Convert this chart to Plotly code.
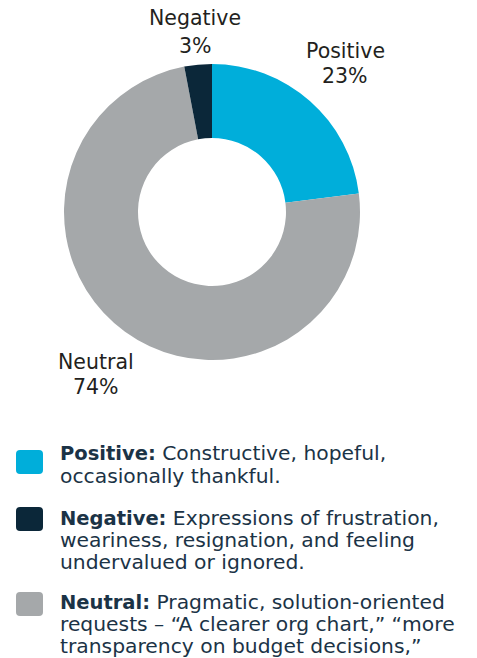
import plotly.graph_objects as go

W, H = 477, 658

# Data (pie order: clockwise from 12 o'clock)
pie_labels = ["Positive", "Neutral", "Negative"]
pie_values = [23, 74, 3]
colors = {"Positive": "#00AEDA", "Neutral": "#A5A8AA", "Negative": "#0B2739"}

# Legend order and descriptions (one entry per text line)
legend_order = ["Positive", "Negative", "Neutral"]
legend_desc = {
    "Positive": ["Constructive, hopeful,", "occasionally thankful."],
    "Negative": ["Expressions of frustration,",
                 "weariness, resignation, and feeling",
                 "undervalued or ignored."],
    "Neutral": ["Pragmatic, solution-oriented",
                "requests \u2013 \u201cA clearer org chart,\u201d \u201cmore",
                "transparency on budget decisions,\u201d"],
}

FONT = "DejaVu Sans"
LBL_SIZE = 20.5
REG_SIZE = 20.3
BOLD_SIZE = 19.5

def px(x):
    return x / W

def py(y):
    return 1 - y / H

def mid_from_baseline(b, size):
    return b - 0.346 * size

fig = go.Figure()

# Donut: centre (212, 212), radius 148
cx, cy, r = 212, 212, 148
fig.add_trace(go.Pie(
    labels=pie_labels,
    values=pie_values,
    sort=False,
    direction="clockwise",
    rotation=0,
    hole=0.5,
    marker=dict(colors=[colors[l] for l in pie_labels], line=dict(width=0)),
    textinfo="none",
    showlegend=False,
    domain=dict(x=[px(cx - r), px(cx + r)], y=[py(cy + r), py(cy - r)]),
))

annotations = []

# Slice labels (outside): centre x, baseline of first and second line
label_pos = {"Negative": (195, 25.5, 53), "Positive": (345, 58, 83), "Neutral": (96, 369, 394)}
for lab, val in zip(pie_labels, pie_values):
    x, b1, b2 = label_pos[lab]
    for txt, b in ((lab, b1), (f"{val}%", b2)):
        annotations.append(dict(
            x=px(x), y=py(mid_from_baseline(b, LBL_SIZE)), xref="paper", yref="paper",
            text=txt, showarrow=False,
            xanchor="center", yanchor="middle", align="center",
            font=dict(family=FONT, size=LBL_SIZE, color="#231F20"),
        ))

# Custom legend
shapes = []
legend_sq_top = {"Positive": 450, "Negative": 507, "Neutral": 592}
legend_baselines = {"Positive": [460.5, 483], "Negative": [525, 547.5, 569],
                    "Neutral": [609, 631.5, 653.5]}
sq_x0, sq_w, sq_h, rad = 16, 27, 24, 4
for lab in legend_order:
    y0 = legend_sq_top[lab]
    x0 = sq_x0
    x1, y1 = x0 + sq_w, y0 + sq_h
    path = (
        f"M {px(x0 + rad)},{py(y0)} L {px(x1 - rad)},{py(y0)} "
        f"Q {px(x1)},{py(y0)} {px(x1)},{py(y0 + rad)} "
        f"L {px(x1)},{py(y1 - rad)} Q {px(x1)},{py(y1)} {px(x1 - rad)},{py(y1)} "
        f"L {px(x0 + rad)},{py(y1)} Q {px(x0)},{py(y1)} {px(x0)},{py(y1 - rad)} "
        f"L {px(x0)},{py(y0 + rad)} Q {px(x0)},{py(y0)} {px(x0 + rad)},{py(y0)} Z"
    )
    shapes.append(dict(type="path", path=path, xref="paper", yref="paper",
                       fillcolor=colors[lab], line=dict(width=0)))
    for i, (line, b) in enumerate(zip(legend_desc[lab], legend_baselines[lab])):
        if i == 0:
            txt = f"<span style='font-size:{BOLD_SIZE}px'><b>{lab}:</b></span> {line}"
        else:
            txt = line
        annotations.append(dict(
            x=px(57.5), y=py(mid_from_baseline(b, REG_SIZE)), xref="paper", yref="paper",
            text=txt, showarrow=False,
            xanchor="left", yanchor="middle", align="left",
            font=dict(family=FONT, size=REG_SIZE, color="#1B3346"),
        ))

fig.update_layout(
    width=W, height=H,
    margin=dict(l=0, r=0, t=0, b=0),
    paper_bgcolor="white", plot_bgcolor="white",
    annotations=annotations, shapes=shapes,
)

fig.write_html("out.html", config={"displayModeBar": False},
               post_script="document.body.style.margin='0';")
